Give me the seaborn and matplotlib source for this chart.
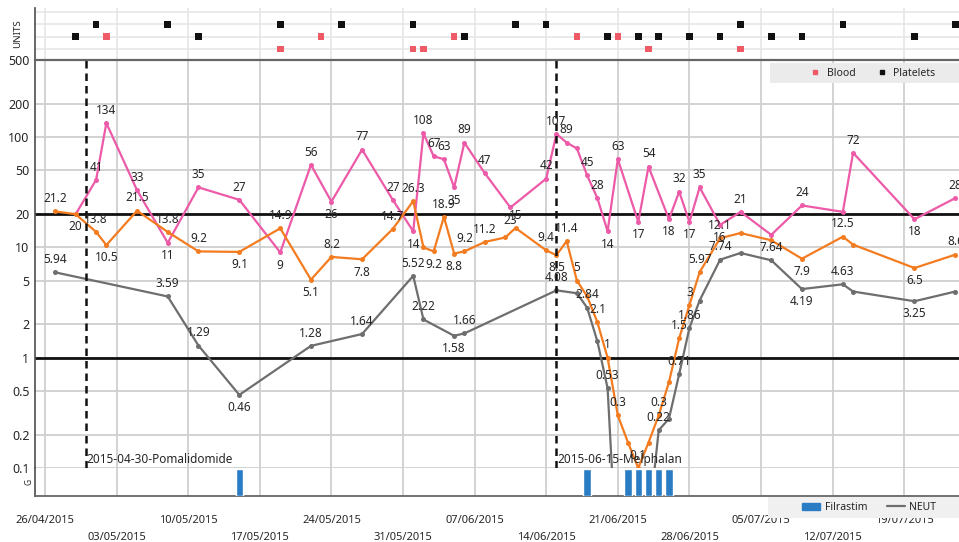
import matplotlib
matplotlib.use("Agg")
import matplotlib.pyplot as plt
from matplotlib.lines import Line2D
from matplotlib.patches import Patch, Rectangle
import pandas as pd
import seaborn as sns

sns.set_theme(style="white")
plt.rcParams["font.family"] = ["Noto Sans", "DejaVu Sans"]

# ---------------- blood counts ----------------
plt_dates = ["2015-04-29", "2015-05-01", "2015-05-02", "2015-05-05", "2015-05-08", "2015-05-11",
             "2015-05-15", "2015-05-19", "2015-05-22", "2015-05-24", "2015-05-27", "2015-05-30",
             "2015-06-01", "2015-06-02", "2015-06-03", "2015-06-04", "2015-06-05", "2015-06-06",
             "2015-06-08", "2015-06-10 12:00", "2015-06-14", "2015-06-15", "2015-06-16", "2015-06-17",
             "2015-06-18", "2015-06-19", "2015-06-20", "2015-06-21", "2015-06-23", "2015-06-24",
             "2015-06-26", "2015-06-27", "2015-06-28", "2015-06-29", "2015-07-01", "2015-07-03",
             "2015-07-06", "2015-07-09", "2015-07-13", "2015-07-14", "2015-07-20", "2015-07-24"]
plt_values = [20, 41, 134, 33, 11, 35, 27, 9, 56, 26, 77, 27,
              14, 108, 67, 63, 35, 89, 47, 23, 42, 107, 89, 79,
              45, 28, 14, 63, 17, 54, 18, 32, 17, 35, 16, 21,
              13, 24, 21, 72, 18, 28]
plt_shown = [1, 1, 1, 1, 1, 1, 1, 1, 1, 1, 1, 1,
             1, 1, 1, 1, 1, 1, 1, 1, 1, 1, 1, 0,
             1, 1, 1, 1, 1, 1, 1, 1, 1, 1, 1, 1,
             0, 1, 0, 1, 1, 1]

wbc_dates = ["2015-04-27", "2015-04-29", "2015-05-01", "2015-05-02", "2015-05-05", "2015-05-08",
             "2015-05-11", "2015-05-15", "2015-05-19", "2015-05-22", "2015-05-24", "2015-05-27",
             "2015-05-30", "2015-06-01", "2015-06-02", "2015-06-03", "2015-06-04", "2015-06-05",
             "2015-06-06", "2015-06-08", "2015-06-10", "2015-06-11", "2015-06-14", "2015-06-15",
             "2015-06-16", "2015-06-17", "2015-06-18", "2015-06-19", "2015-06-20", "2015-06-21",
             "2015-06-22", "2015-06-23", "2015-06-24", "2015-06-25", "2015-06-26", "2015-06-27",
             "2015-06-28", "2015-06-29", "2015-07-01", "2015-07-03", "2015-07-06", "2015-07-09",
             "2015-07-13", "2015-07-14", "2015-07-20", "2015-07-24"]
wbc_values = [21.2, 20, 13.8, 10.5, 21.5, 13.8, 9.2, 9.1, 14.9, 5.1, 8.2, 7.8,
              14.7, 26.3, 10, 9.2, 18.9, 8.8, 9.2, 11.2, 12.3, 15, 9.4, 8.5,
              11.4, 5, 3.6, 2.1, 1, 0.3, 0.17, 0.1, 0.17, 0.3, 0.6, 1.5,
              3, 5.97, 12.1, 13.5, 11.6, 7.9, 12.5, 10.6, 6.5, 8.6]
wbc_shown = [1, 0, 1, 1, 1, 1, 1, 1, 1, 1, 1, 1,
             1, 1, 0, 1, 1, 1, 1, 1, 0, 1, 1, 1,
             1, 1, 0, 1, 1, 1, 0, 1, 0, 1, 0, 1,
             1, 1, 1, 0, 0, 1, 1, 0, 1, 1]

neut_dates = ["2015-04-27", "2015-05-08", "2015-05-11", "2015-05-15", "2015-05-22", "2015-05-27",
              "2015-06-01", "2015-06-02", "2015-06-05", "2015-06-06", "2015-06-15", "2015-06-17",
              "2015-06-18", "2015-06-19", "2015-06-20", "2015-06-21", "2015-06-22", "2015-06-23",
              "2015-06-24", "2015-06-25", "2015-06-26", "2015-06-27", "2015-06-28", "2015-06-29",
              "2015-07-01", "2015-07-03", "2015-07-06", "2015-07-09", "2015-07-13", "2015-07-14",
              "2015-07-20", "2015-07-24"]
neut_values = [5.94, 3.59, 1.29, 0.46, 1.28, 1.64, 5.52, 2.22, 1.58, 1.66, 4.08, 3.84,
               2.84, 1.41, 0.53, 0.01, 0.01, 0.01, 0.03, 0.22, 0.28, 0.71, 1.86, 3.3,
               7.74, 8.9, 7.64, 4.19, 4.63, 3.98, 3.25, 3.98]
neut_shown = [1, 1, 1, 1, 1, 1, 1, 1, 1, 1, 1, 0,
              1, 0, 1, 0, 0, 0, 0, 1, 0, 1, 1, 0,
              1, 0, 1, 1, 1, 0, 1, 0]

# ---------------- treatments ----------------
filgrastim_dates = ["2015-05-15", "2015-06-18", "2015-06-22", "2015-06-23", "2015-06-24",
                    "2015-06-25", "2015-06-26"]
events = [("2015-04-30", "2015-04-30-Pomalidomide"), ("2015-06-15", "2015-06-15-Melphalan")]

# transfusions: date and row in the strip
platelet_tx_dates = ["2015-05-01", "2015-05-08", "2015-05-19", "2015-05-25", "2015-06-01",
                     "2015-06-11", "2015-06-14", "2015-07-03", "2015-07-13", "2015-07-24",
                     "2015-04-29", "2015-05-11", "2015-06-06", "2015-06-20", "2015-06-23",
                     "2015-06-25", "2015-06-28", "2015-07-01", "2015-07-06", "2015-07-09",
                     "2015-07-20"]
platelet_tx_rows = [3, 3, 3, 3, 3, 3, 3, 3, 3, 3,
                    2, 2, 2, 2, 2, 2, 2, 2, 2, 2, 2]
blood_tx_dates = ["2015-05-02", "2015-05-23", "2015-06-05", "2015-06-17", "2015-06-21",
                  "2015-05-19", "2015-06-01", "2015-06-02", "2015-06-24", "2015-07-03"]
blood_tx_rows = [2, 2, 2, 2, 2, 1, 1, 1, 1, 1]

week_ticks = pd.date_range("2015-04-26", "2015-07-19", freq="7D")

C_PLT = "#ec5aa8"
C_WBC = "#f47c20"
C_NEUT = "#6e6e6e"
C_BAR = "#2a7cc4"
C_BLOOD = "#ef5a67"
C_GRID = "#cfcfcf"
C_TEXT = "#262626"

W, H = 959, 542
fig = plt.figure(figsize=(W / 100, H / 100), dpi=100)


def box(x0, y0, x1, y1):
    return [x0 / W, 1 - y1 / H, (x1 - x0) / W, (y1 - y0) / H]


def to_dt(values):
    return pd.to_datetime(values, format="ISO8601")


ax_top = fig.add_axes(box(35, 8, 959, 60))
ax = fig.add_axes(box(35, 60, 959, 468), sharex=ax_top)
ax_bar = fig.add_axes(box(35, 468, 959, 496), sharex=ax_top)

xmin = pd.Timestamp("2015-04-25 00:35")
xmax = pd.Timestamp("2015-07-24 08:30")

# ---------------- main panel ----------------
ax.set_yscale("log")
ax.set_ylim(0.1, 500)
yt = [0.1, 0.2, 0.5, 1, 2, 5, 10, 20, 50, 100, 200, 500]
ax.set_yticks(yt)
ax.set_yticklabels([f"{v:g}" for v in yt])
ax.yaxis.set_minor_locator(matplotlib.ticker.NullLocator())
ax.set_xticks(week_ticks)
ax.grid(True, which="major", color=C_GRID, lw=1.3, zorder=0)
ax.axhline(20, color="#111111", lw=2.0, zorder=2)
ax.axhline(1, color="#111111", lw=2.0, zorder=2)


def draw_series(dates, values, shown, color):
    df = pd.DataFrame({"date": to_dt(dates), "value": values})
    sns.lineplot(data=df, x="date", y="value", ax=ax, color=color, lw=1.6,
                 marker="o", markersize=3.6, markeredgewidth=0, zorder=3, legend=False)
    n = len(values)
    for i, (d, v, s) in enumerate(zip(df["date"], values, shown)):
        if not s:
            continue
        pv = values[i - 1] if i > 0 else None
        nv = values[i + 1] if i < n - 1 else None
        below = (pv is None or v < pv) and (nv is None or v < nv)
        if v <= 0.12:
            below = False
        ax.annotate(f"{v:g}", (d, v), xytext=(0, -4.5 if below else 4.5),
                    textcoords="offset points", ha="center",
                    va="top" if below else "bottom", fontsize=8.5, color=C_TEXT, zorder=6)


draw_series(plt_dates, plt_values, plt_shown, C_PLT)
draw_series(wbc_dates, wbc_values, wbc_shown, C_WBC)
draw_series(neut_dates, neut_values, neut_shown, C_NEUT)

for d, name in events:
    dt = pd.Timestamp(d)
    ax.axvline(dt, color="#111111", lw=1.8, ls=(0, (3, 2)), zorder=4)
    ax.text(dt + pd.Timedelta(hours=2), 0.022, name, transform=ax.get_xaxis_transform(),
            ha="left", va="center", fontsize=8.5, color=C_TEXT, zorder=6)

ax.set_xlabel("")
ax.set_ylabel("")
ax.tick_params(axis="y", which="major", length=2, pad=2, labelsize=9, colors=C_TEXT)
ax.tick_params(axis="x", length=0, labelbottom=False)
for side in ("right", "bottom"):
    ax.spines[side].set_visible(False)
ax.spines["left"].set_color("#555555")
ax.spines["top"].set_color("#666666")
ax.spines["top"].set_linewidth(1.6)

# ---------------- transfusion strip ----------------
sns.scatterplot(x=to_dt(platelet_tx_dates), y=platelet_tx_rows, ax=ax_top,
                marker="s", s=22, color="#111111", edgecolor="none", legend=False, zorder=3)
sns.scatterplot(x=to_dt(blood_tx_dates), y=blood_tx_rows, ax=ax_top,
                marker="s", s=22, color=C_BLOOD, edgecolor="none", legend=False, zorder=3)
ax_top.set_ylim(0.1, 4.33)
ax_top.set_yticks([1, 2, 3, 4])
ax_top.set_yticklabels([])
ax_top.set_xticks(week_ticks)
ax_top.grid(True, color="#e4e4e4", lw=1.1, zorder=0)
ax_top.tick_params(axis="x", length=0, labelbottom=False)
ax_top.tick_params(axis="y", length=4, width=1, color="#555555")
for side in ("right", "top", "bottom"):
    ax_top.spines[side].set_visible(False)
ax_top.spines["left"].set_color("#555555")
ax_top.set_xlabel("")
ax_top.set_ylabel("UNITS", fontsize=7, color=C_TEXT, labelpad=2)

# ---------------- filgrastim strip ----------------
ax_bar.bar(to_dt(filgrastim_dates), [1] * len(filgrastim_dates), width=0.72,
           color=C_BAR, zorder=3)
ax_bar.set_ylim(0, 1.04)
ax_bar.set_yticks([])
ax_bar.set_xticks(week_ticks)
ax_bar.grid(True, axis="x", color=C_GRID, lw=1.3, zorder=0)
for side in ("right", "top"):
    ax_bar.spines[side].set_visible(False)
ax_bar.spines["left"].set_color("#555555")
ax_bar.spines["bottom"].set_color("#666666")
ax_bar.spines["bottom"].set_linewidth(1.3)
ax_bar.set_ylabel("G", fontsize=6, color=C_TEXT, labelpad=1)
labels = [d.strftime("%d/%m/%Y") if i % 2 == 0 else "\n" + d.strftime("%d/%m/%Y")
          for i, d in enumerate(week_ticks)]
ax_bar.set_xticklabels(labels)
ax_bar.tick_params(axis="x", length=13, width=1.3, color=C_GRID, pad=1.0,
                   labelsize=8, labelcolor=C_TEXT)
for lbl in ax_bar.get_xticklabels():
    lbl.set_linespacing(1.75)
ax_bar.set_xlim(xmin, xmax)

# ---------------- legends ----------------
fig.add_artist(Rectangle((770 / W, 1 - 83 / H), 189 / W, 20 / H, transform=fig.transFigure,
                         facecolor="#ebebeb", edgecolor="none", zorder=6))
fig.legend(handles=[Line2D([], [], marker="s", ls="", color=C_BLOOD, markersize=3.5, label="Blood"),
                    Line2D([], [], marker="s", ls="", color="#111111", markersize=3.5, label="Platelets")],
           loc="center left", bbox_to_anchor=(805 / W, 1 - 73 / H), ncol=2, fontsize=7.5,
           frameon=False, handlelength=1.0, handletextpad=0.6, columnspacing=2.0,
           borderpad=0).set_zorder(7)

fig.add_artist(Rectangle((768 / W, 1 - 518 / H), 191 / W, 21 / H, transform=fig.transFigure,
                         facecolor="#f0f0f0", edgecolor="none", zorder=6))
fig.legend(handles=[Patch(color=C_BAR, label="Filrastim"),
                    Line2D([], [], color=C_NEUT, lw=1.6, label="NEUT")],
           loc="center left", bbox_to_anchor=(797 / W, 1 - 507.5 / H), ncol=2, fontsize=7.5,
           frameon=False, handlelength=1.7, handletextpad=0.45, columnspacing=1.9,
           borderpad=0).set_zorder(7)

fig.savefig("out.png", dpi=100)
